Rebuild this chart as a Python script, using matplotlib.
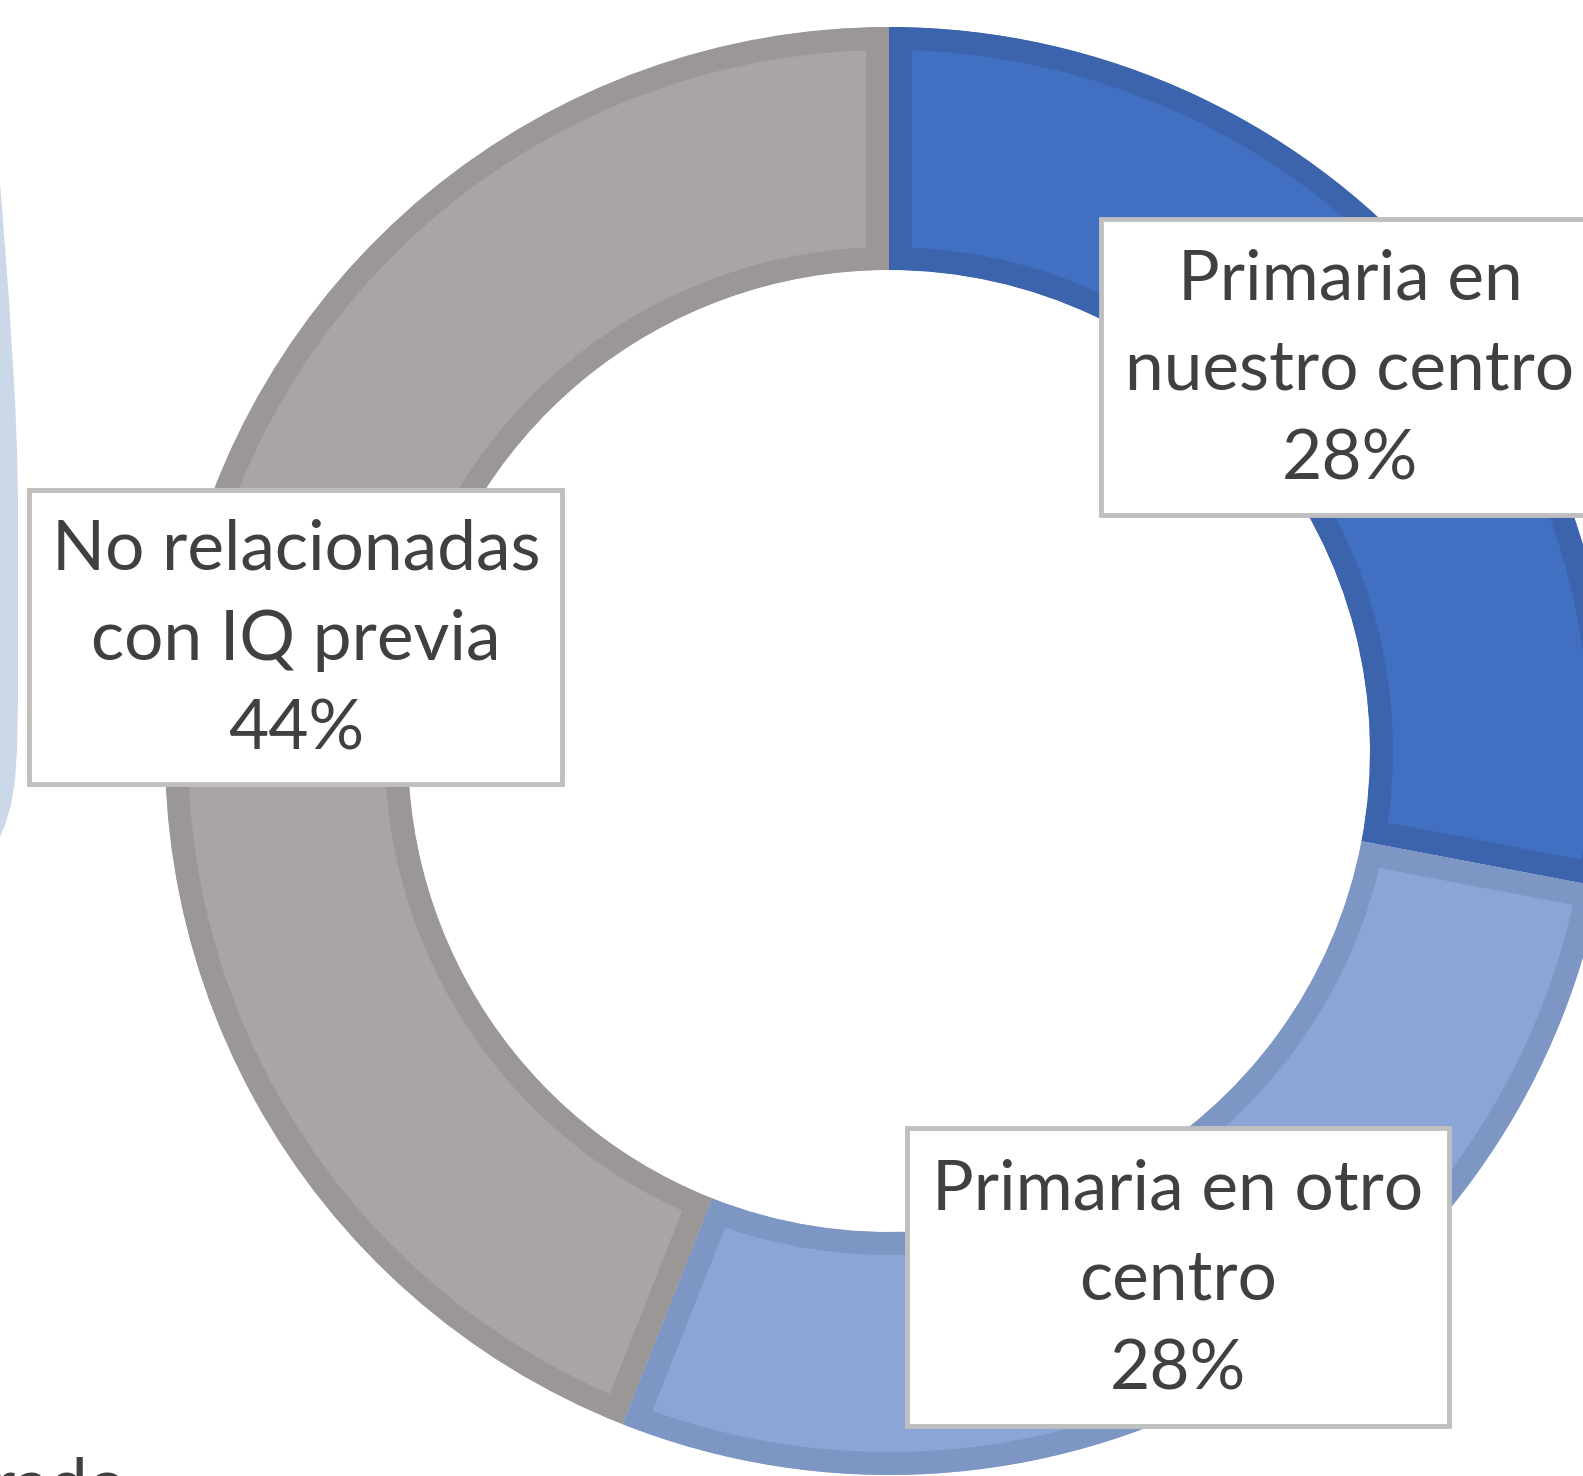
import matplotlib
matplotlib.use("Agg")
import matplotlib.pyplot as plt
from matplotlib.patches import Rectangle, Polygon

# data
labels = ["Primaria en\nnuestro centro", "Primaria en otro\ncentro", "No relacionadas\ncon IQ previa"]
values = [28, 28, 44]
fills = ["#4170C2", "#8BA6D6", "#A8A5A4"]
edges = ["#3B64AD", "#7D96C3", "#9A9796"]

# label boxes: centre x, centre y (from top), width, height
boxes = [(1350, 367, 498, 296), (1178, 1277, 542, 298), (296, 637, 533, 294)]

# outline of the shape that is cut by the left border (x, y from top)
side_shape = [(-5, 183), (0, 183), (3, 220), (6, 260), (9, 300), (12, 350),
              (15, 400), (17, 450), (18, 500), (18, 700), (17, 750),
              (15, 780), (11, 805), (6, 822), (0, 837), (-5, 837)]

W, H = 1583, 1476
fig = plt.figure(figsize=(W / 100, H / 100), dpi=100)
ax = fig.add_axes([0, 0, 1, 1])

plt.rcParams["font.family"] = ["Lato", "DejaVu Sans"]
txt_col = "#404040"

ax.add_patch(Polygon([(x, H - y) for x, y in side_shape], closed=True,
                     fc="#CBD8E8", ec="none", zorder=0))

cx, cy = 889, H - 751
R, ring = 724, 243
wedges, _ = ax.pie(values, center=(cx, cy), radius=R, startangle=90,
                   counterclock=False, wedgeprops=dict(width=ring))
for w, fc, ec in zip(wedges, fills, edges):
    w.set_facecolor(fc)
    w.set_edgecolor(ec)
    w.set_linewidth(46 * 0.72)   # only the inner half shows
    w.set_joinstyle("miter")
    w.set_clip_on(True)
    w.set_clip_path(w)

for (bx, by, bw, bh), lab, v in zip(boxes, labels, values):
    ax.add_patch(Rectangle((bx - bw / 2, H - by - bh / 2), bw, bh,
                           fc="white", ec="#BFBFBF", lw=3.5, zorder=3))
    ax.text(bx, H - by - 3, f"{lab}\n{v}%", ha="center", va="center",
            fontsize=50, color=txt_col, linespacing=1.52, zorder=4)

ax.text(127, H - 1508, "rado", ha="right", va="baseline",
        fontsize=50, color=txt_col)

ax.set_xlim(0, W)
ax.set_ylim(0, H)
ax.set_aspect("equal")
ax.axis("off")

fig.savefig("out.png", dpi=100)
